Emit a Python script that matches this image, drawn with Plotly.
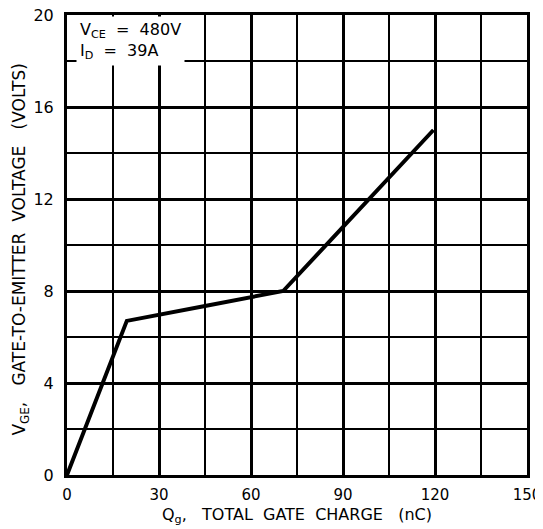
import plotly.graph_objects as go

# Data
charge_nc = [0, 19.5, 45, 70.5, 119.5]
vge_volts = [0, 6.7, 7.35, 8.0, 15.0]

x_ticks = [0, 30, 60, 90, 120, 150]
y_ticks = [0, 4, 8, 12, 16, 20]

FONT = "DejaVu Sans, Liberation Sans, sans-serif"

fig = go.Figure()
fig.add_trace(go.Scatter(
    x=charge_nc, y=vge_volts, mode="lines",
    line=dict(color="black", width=4),
    hoverinfo="skip", showlegend=False,
))

fig.update_xaxes(
    range=[0, 150], tickvals=x_ticks, ticktext=[str(v) for v in x_ticks],
    showgrid=True, gridcolor="black", gridwidth=3,
    minor=dict(dtick=15, showgrid=True, gridcolor="black", gridwidth=1.5),
    showline=True, linecolor="black", linewidth=3, mirror=True,
    zeroline=False, ticks="", automargin=False, ticklabelstandoff=4,
    ticklabeloverflow="allow",
    tickfont=dict(size=15, color="black", family=FONT),
)
fig.update_yaxes(
    range=[0, 20], tickvals=y_ticks, ticktext=[str(v) for v in y_ticks],
    showgrid=True, gridcolor="black", gridwidth=3,
    minor=dict(dtick=2, showgrid=True, gridcolor="black", gridwidth=1.5),
    showline=True, linecolor="black", linewidth=3, mirror=True,
    zeroline=False, ticks="", automargin=False, ticklabelstandoff=7,
    ticklabeloverflow="allow",
    tickfont=dict(size=16, color="black", family=FONT),
)

# Axis titles
fig.add_annotation(
    xref="paper", yref="paper", x=0.5, y=0, yshift=-40, xanchor="center", yanchor="middle",
    text="Q<sub>g</sub>,&nbsp;&nbsp;&nbsp;TOTAL&nbsp;&nbsp;GATE&nbsp;&nbsp;CHARGE&nbsp;&nbsp;&nbsp;(nC)",
    showarrow=False, font=dict(size=16, color="black", family=FONT),
)
fig.add_annotation(
    xref="paper", yref="paper", x=0, xshift=-46, y=0.49, xanchor="center", yanchor="middle",
    text="V<sub>GE</sub>,&nbsp;&nbsp;&nbsp;GATE-TO-EMITTER&nbsp;&nbsp;VOLTAGE&nbsp;&nbsp;&nbsp;(VOLTS)",
    textangle=-90, showarrow=False, font=dict(size=17, color="black", family=FONT),
)

fig.add_annotation(
    xref="paper", yref="paper", x=0.02, y=0.997, xanchor="left", yanchor="top",
    text="V<sub>CE</sub>&nbsp;&nbsp;=&nbsp;&nbsp;480V<br>I<sub>D</sub>&nbsp;&nbsp;=&nbsp;&nbsp;39A", align="left",
    showarrow=False, bgcolor="white", borderpad=3,
    font=dict(size=16, color="black", family=FONT),
)

# Page body has an 8px margin, so the figure is 8px smaller than the window
fig.update_layout(
    width=535, height=521,
    margin=dict(l=59, r=16, t=7, b=54),
    paper_bgcolor="white", plot_bgcolor="white",
    font=dict(family=FONT, color="black"),
)

fig.write_html("out.html")
